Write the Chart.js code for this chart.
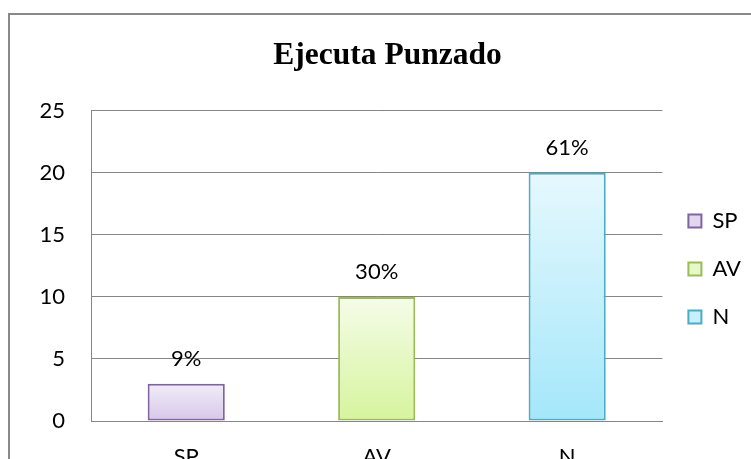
<!DOCTYPE html>
<html>
<head>
<meta charset="utf-8">
<script src="https://cdn.jsdelivr.net/npm/chart.js@4/dist/chart.umd.min.js"></script>
<style>
  html, body { margin: 0; padding: 0; background: #fff; overflow: hidden; }
  body { width: 751px; height: 459px; position: relative; }
  .marco { position: absolute; left: 8px; top: 13px; width: 800px; height: 540px; border: 2px solid #888; }
  #grafico { position: absolute; left: 24px; top: 0; }
</style>
</head>
<body>
<div class="marco"></div>
<canvas id="grafico" width="800" height="538"></canvas>
<script>
// DATOS
const categorias = ["SP", "AV", "N"];
const valores = [3, 10, 20];
const porcentajes = ["9%", "30%", "61%"];
const ticksY = [0, 5, 10, 15, 20, 25];

// colores de cada barra: arriba, abajo, borde
const colorArriba = ["#f1ecf8", "#f5fce9", "#e6f8fd"];
const colorAbajo = ["#d6c8ea", "#d6f49c", "#a4e7fa"];
const colorBorde = ["#8064a2", "#9bbb59", "#4bacc6"];
const colorLeyenda = ["#e1d8f0", "#e6f8c6", "#c8f0fb"];

const fuente = "Lato, 'Open Sans', sans-serif";

// degradado vertical de cada barra
function degradado(ctx, i) {
    const chart = ctx.chart;
    if (!chart.chartArea || ctx.raw == null) return colorLeyenda[i];
    const y = chart.scales.y;
    const g = chart.ctx.createLinearGradient(0, y.getPixelForValue(ctx.raw), 0, y.getPixelForValue(0));
    g.addColorStop(0, colorArriba[i]);
    g.addColorStop(1, colorAbajo[i]);
    return g;
}

// un dataset por categoria para que salga en la leyenda
const datasets = categorias.map(function (cat, i) {
    return {
        label: cat,
        data: valores.map(function (v, j) { return j === i ? v : null; }),
        backgroundColor: function (ctx) { return degradado(ctx, i); },
        borderColor: colorBorde[i],
        borderWidth: 2,
        borderSkipped: false,
        categoryPercentage: 1,
        barPercentage: 0.405,
        skipNull: true
    };
});

// etiquetas de porcentaje encima de las barras
const etiquetas = {
    id: "etiquetas",
    afterDatasetsDraw: function (chart) {
        const ctx = chart.ctx;
        ctx.save();
        ctx.font = "22px " + fuente;
        ctx.fillStyle = "#000";
        ctx.textAlign = "center";
        ctx.textBaseline = "middle";
        chart.data.datasets.forEach(function (ds, i) {
            const meta = chart.getDatasetMeta(i);
            meta.data.forEach(function (bar, j) {
                if (ds.data[j] == null) return;
                ctx.fillText(porcentajes[j], bar.x, bar.y - 25);
            });
        });
        ctx.restore();
    }
};

new Chart(document.getElementById("grafico"), {
    type: "bar",
    data: { labels: categorias, datasets: datasets },
    plugins: [etiquetas],
    options: {
        responsive: false,
        animation: false,
        layout: { padding: { left: 0, right: 73, top: 0, bottom: 0 } },
        plugins: {
            title: {
                display: true,
                text: "Ejecuta Punzado",
                color: "#000",
                font: { family: "'Liberation Serif', 'Times New Roman', serif", size: 31.5, weight: "bold", lineHeight: 1.2 },
                padding: { top: 37, bottom: 36 }
            },
            legend: {
                position: "right",
                labels: {
                    color: "#000",
                    font: { family: fuente, size: 22 },
                    boxWidth: 13,
                    boxHeight: 13,
                    padding: 26,
                    generateLabels: function (chart) {
                        const items = Chart.defaults.plugins.legend.labels.generateLabels(chart);
                        items.forEach(function (it, i) {
                            it.fillStyle = colorLeyenda[i];
                            it.strokeStyle = colorBorde[i];
                            it.lineWidth = 2;
                        });
                        return items;
                    }
                },
                onClick: null
            },
            tooltip: { enabled: false }
        },
        scales: {
            x: {
                grid: { display: false, drawTicks: false },
                border: { display: true, color: "#868686", width: 1 },
                ticks: { color: "#000", font: { family: fuente, size: 22 }, padding: 23 },
                afterFit: function (scale) { scale.height = 117; }
            },
            y: {
                min: 0,
                max: 25,
                afterBuildTicks: function (scale) {
                    scale.ticks = ticksY.map(function (v) { return { value: v }; });
                },
                grid: { color: "#868686", drawTicks: false },
                border: { display: true, color: "#868686", width: 1 },
                ticks: { color: "#000", font: { family: fuente, size: 22 }, padding: 26 },
                afterFit: function (scale) { scale.width = 67; }
            }
        }
    }
});
</script>
</body>
</html>
